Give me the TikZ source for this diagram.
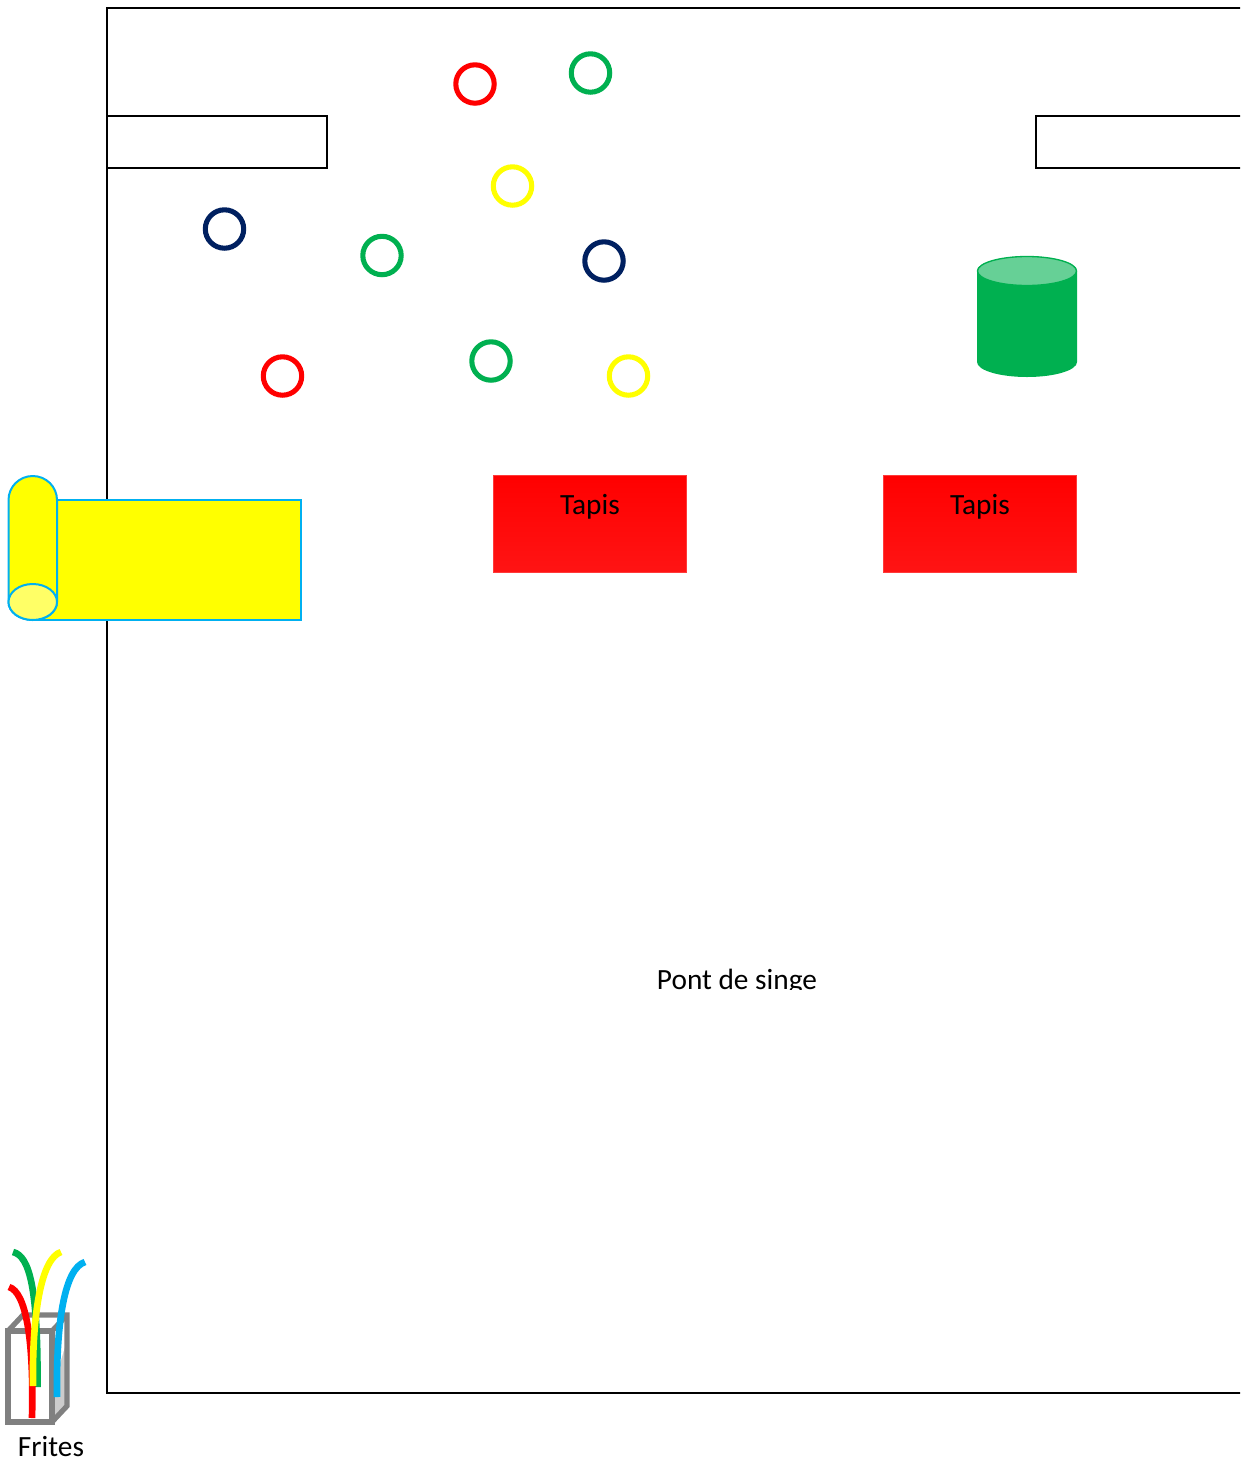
\documentclass[tikz,border=0pt]{standalone}
\usepackage{fontspec}
\setmainfont{Carlito}
\definecolor{cgreen}{HTML}{00B050}
\definecolor{cnavy}{HTML}{002060}
\definecolor{cblue}{HTML}{00B0F0}
\definecolor{cbox}{HTML}{808080}
\definecolor{cyellow}{HTML}{FFFF00}
\definecolor{cred}{HTML}{FF0000}
\definecolor{credlow}{HTML}{FF1414}
\definecolor{credline}{HTML}{FF3A3A}
\tikzset{
  ring/.style={draw=#1,line width=3.8pt,fill=none,circle,minimum size=28.8pt,inner sep=0pt},
  frameline/.style={draw=black,line width=1.2pt},
  tapis/.style={draw=credline,line width=1pt,top color=cred,bottom color=credlow},
  fry/.style={line width=5pt,line cap=butt},
  rollline/.style={draw=cblue,line width=1.5pt},
  boxline/.style={draw=cbox,line width=3.9pt,line join=miter},
  lbl/.style={font=\fontsize{22pt}{26pt}\selectfont,inner sep=0pt,text=black,anchor=base}
}
\begin{document}
\begin{tikzpicture}[x=0.75pt,y=-0.75pt]
\useasboundingbox (0,0) rectangle (1240,1457);
\clip (0,0) rectangle (1240,1457);
% main frame
\draw[frameline] (1245,8) -- (107,8) -- (107,1393) -- (1245,1393);
\draw[frameline] (107,116) -- (327,116) -- (327,168) -- (107,168);
\draw[frameline] (1245,116) -- (1036,116) -- (1036,168) -- (1245,168);
% rings
\node[ring=cred] (r1) at (475,84) {};
\node[ring=cgreen] (r2) at (590.5,73) {};
\node[ring=cyellow] (r3) at (512.5,186) {};
\node[ring=cnavy] (r4) at (224.5,229) {};
\node[ring=cgreen] (r5) at (382,255.5) {};
\node[ring=cnavy] (r6) at (604,261) {};
\node[ring=cred] (r7) at (282.5,376) {};
\node[ring=cgreen] (r8) at (491,361) {};
\node[ring=cyellow] (r9) at (628.5,376) {};
% cylinder
\fill[cgreen] (977,271) arc[start angle=180,end angle=360,x radius=50,y radius=14.5]
  -- (1077,362) arc[start angle=0,end angle=180,x radius=50,y radius=15] -- cycle;
\draw[cgreen,line width=1pt,fill=cgreen!60!white] (1027,271) ellipse[x radius=49.5,y radius=14.5];
% tapis
\node[tapis,minimum width=145pt,minimum height=73pt,inner sep=0pt] (t1) at (590,524) {};
\node[tapis,minimum width=145pt,minimum height=73pt,inner sep=0pt] (t2) at (980,524) {};
\node[lbl] (tl1) at (590,514.5) {Tapis};
\node[lbl] (tl2) at (980,514.5) {Tapis};
% scroll
\draw[rollline,fill=cyellow] (32,500) -- (301,500) -- (301,620) -- (32,620) -- cycle;
\draw[rollline,fill=cyellow] (8.5,602) -- (8.5,500) arc[start angle=180,end angle=360,x radius=24.25,y radius=24]
  -- (57,602) arc[start angle=0,end angle=180,x radius=24.25,y radius=18] -- cycle;
\draw[rollline,fill=cyellow!60!white] (32.75,602) ellipse[x radius=24.25,y radius=18];
% Pont de singe (cut off at the bottom as in the reference)
\begin{scope}
\clip (600,950) rectangle (900,989);
\node[lbl] (pont) at (737,989.5) {Pont de singe};
\end{scope}
% box
\fill[white] (8,1331) rectangle (52,1422);
\fill[black!20] (52,1331) -- (67,1315) -- (67,1406) -- (52,1422) -- cycle;
\fill[white] (52,1331) -- (67,1315) -- (67,1340) -- (52,1390) -- cycle;
\draw[boxline] (8,1331) rectangle (52,1422);
\draw[boxline] (8,1331) -- (23,1315) -- (67,1315) -- (67,1406) -- (52,1422);
\draw[boxline] (52,1331) -- (67,1315);
% fries
\draw[cgreen,fry] (13,1252) .. controls (30,1256) and (38,1290) .. (37.5,1387);
\draw[cred,fry] (9,1287) .. controls (26,1292) and (34,1340) .. (32,1418);
\draw[cyellow,fry] (61,1252) .. controls (42,1258) and (32,1310) .. (33,1386);
\draw[cblue,fry] (85,1262) .. controls (65,1268) and (56,1320) .. (57,1397);
\node[lbl] (frites) at (51,1456) {Frites};
\end{tikzpicture}
\end{document}
